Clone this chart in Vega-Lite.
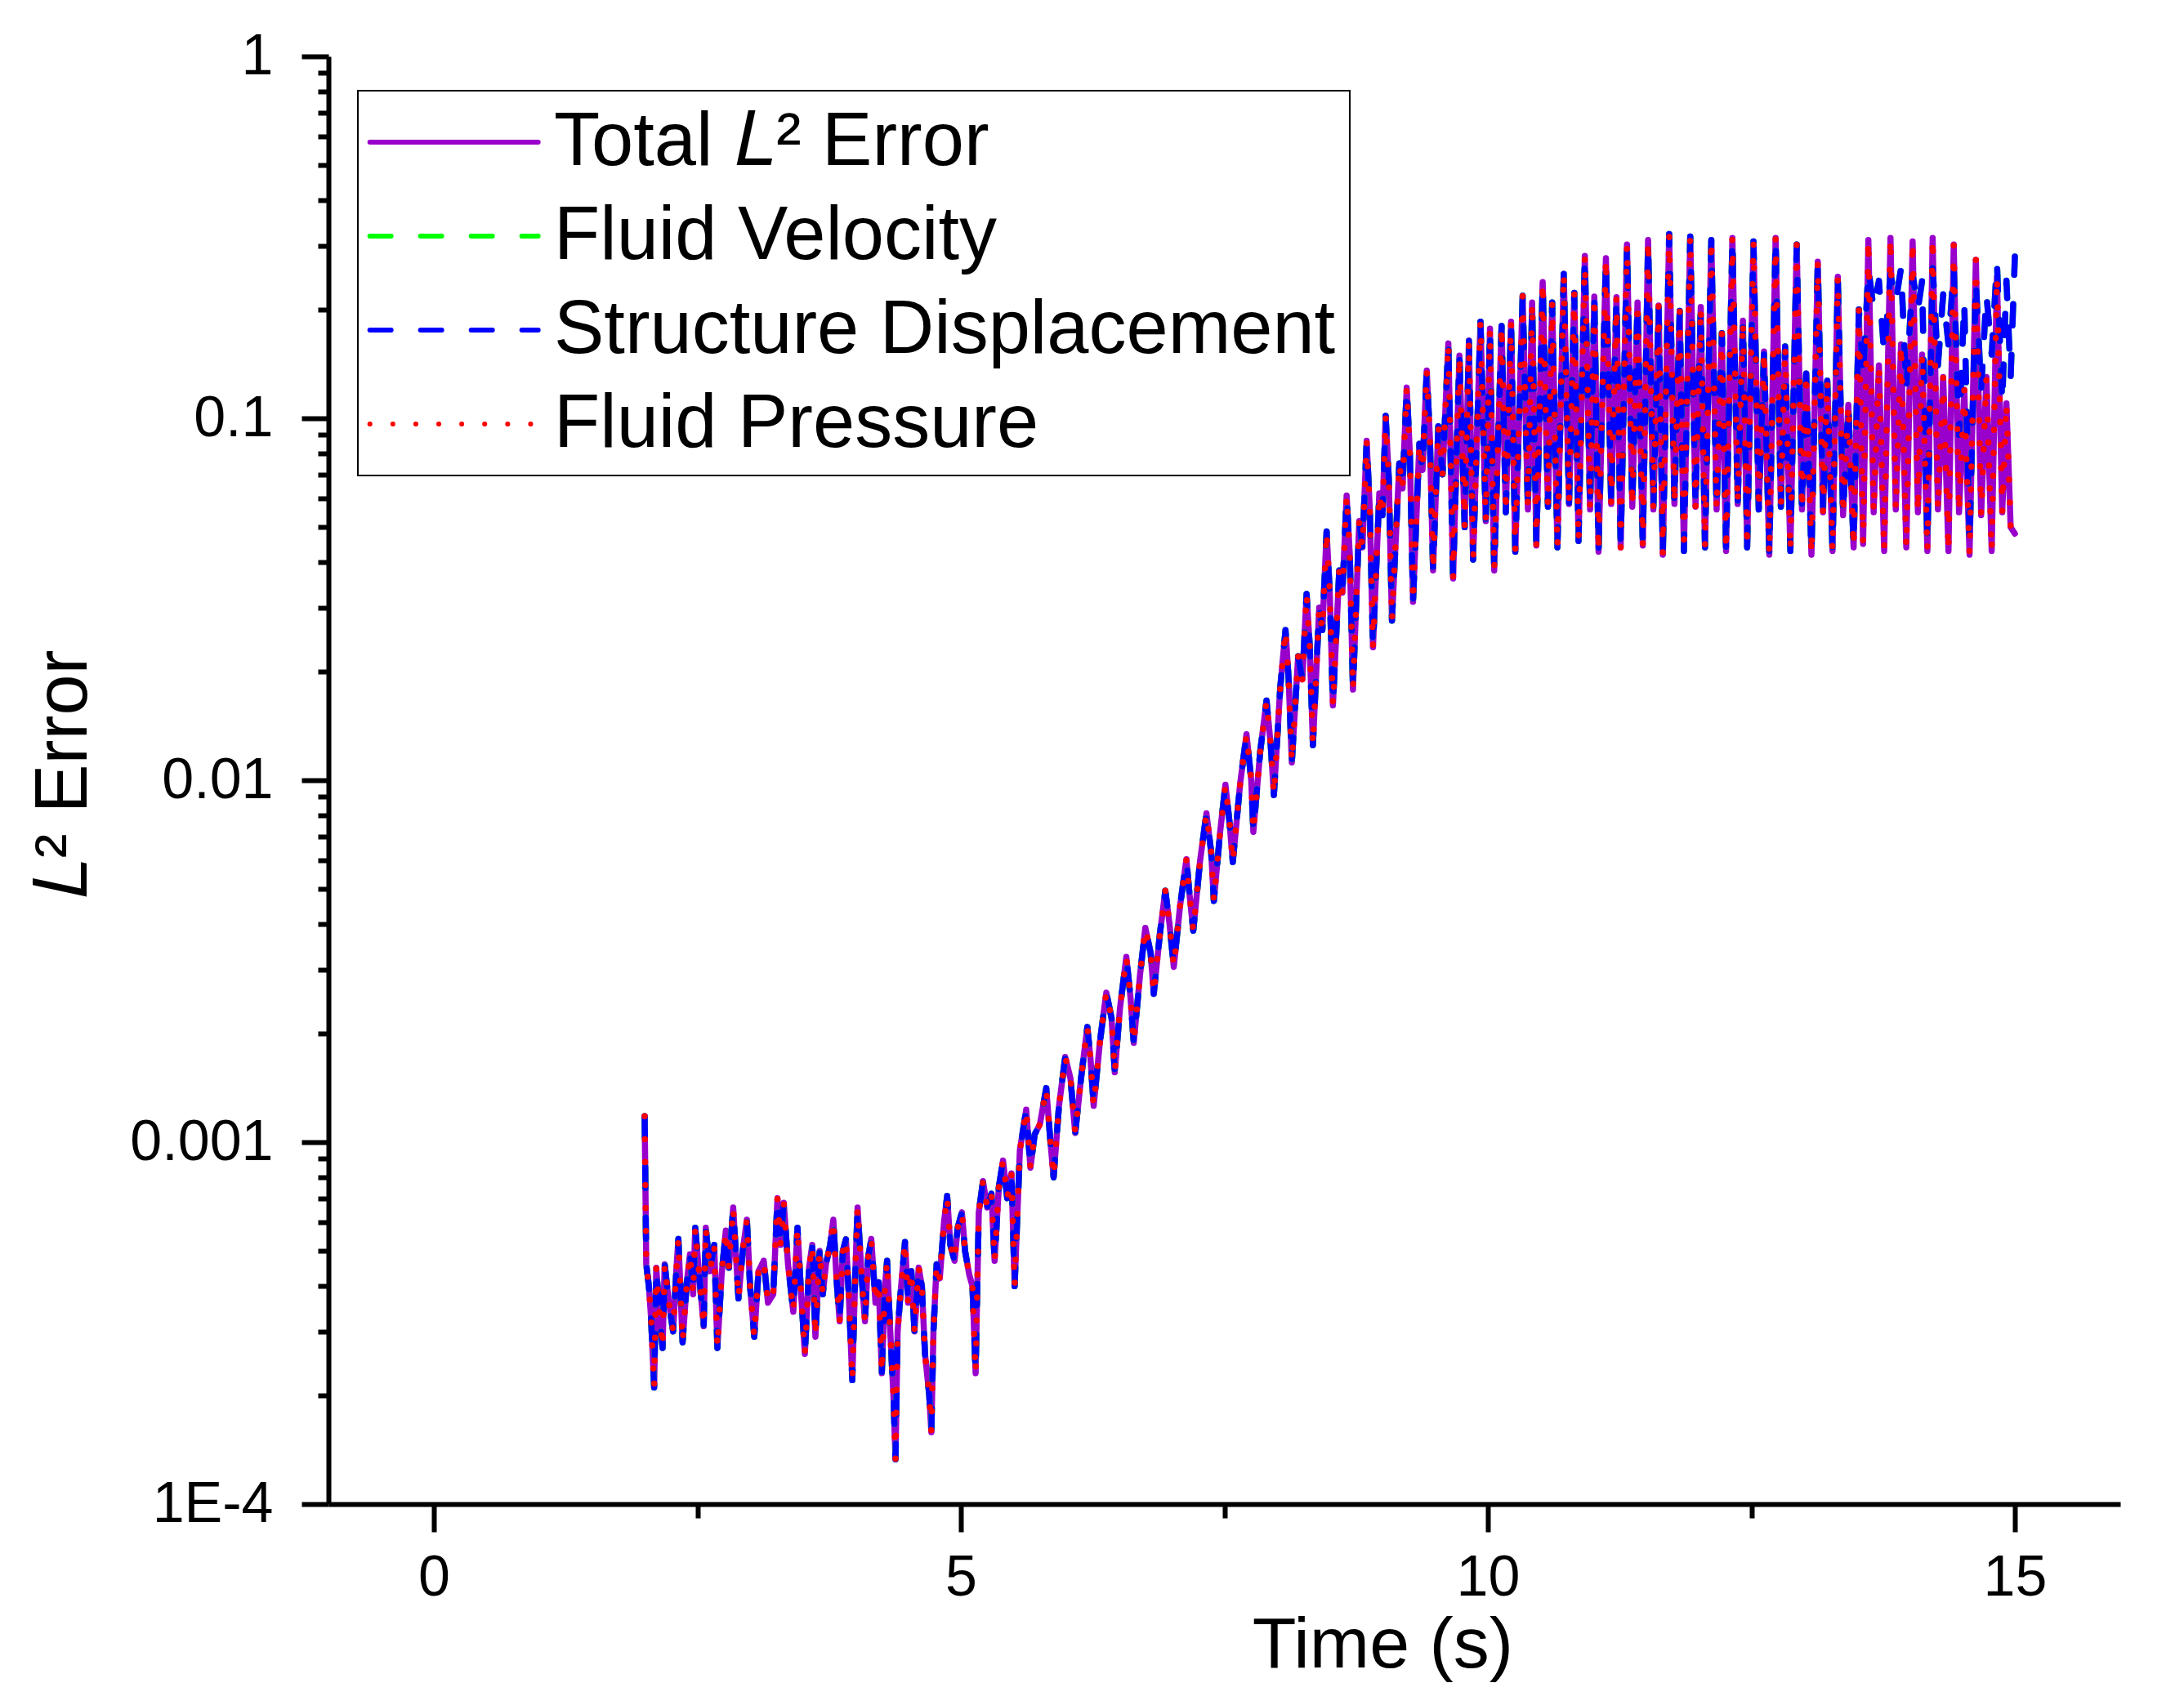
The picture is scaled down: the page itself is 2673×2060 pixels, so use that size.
{
  "$schema": "https://vega.github.io/schema/vega-lite/v6.json",
  "width": 2193,
  "height": 1772,
  "autosize": {"type": "none"},
  "padding": {"left": 402, "top": 69, "right": 78, "bottom": 219},
  "background": "white",
  "config": {
    "view": {"stroke": null},
    "font": "Liberation Sans",
    "axis": {
      "grid": false,
      "domainColor": "black",
      "domainWidth": 6,
      "tickColor": "black",
      "tickWidth": 6,
      "labelColor": "black",
      "titleColor": "black",
      "labelFont": "Liberation Sans",
      "titleFont": "Liberation Sans",
      "labelFontSize": 70,
      "titleFontSize": 88,
      "titleFontWeight": "normal",
      "labelFlush": false
    }
  },
  "data": {
    "values": [
      {"t":2.00,"tot":0.00118,"vel":0.00118,"dis":0.00118,"pre":0.00118},
      {"t":2.015,"tot":0.00046,"vel":0.00046,"dis":0.00046,"pre":0.00046},
      {"t":2.04,"tot":0.00040,"vel":0.00040,"dis":0.00040,"pre":0.00040},
      {"t":2.06,"tot":0.00033,"vel":0.00033,"dis":0.00033,"pre":0.00033},
      {"t":2.09,"tot":0.00021,"vel":0.00021,"dis":0.00021,"pre":0.00021},
      {"t":2.11,"tot":0.00045,"vel":0.00045,"dis":0.00045,"pre":0.00045},
      {"t":2.14,"tot":0.00034,"vel":0.00034,"dis":0.00034,"pre":0.00034},
      {"t":2.17,"tot":0.00027,"vel":0.00027,"dis":0.00027,"pre":0.00027},
      {"t":2.19,"tot":0.00046,"vel":0.00046,"dis":0.00046,"pre":0.00046},
      {"t":2.23,"tot":0.00036,"vel":0.00036,"dis":0.00036,"pre":0.00036},
      {"t":2.27,"tot":0.00030,"vel":0.00030,"dis":0.00030,"pre":0.00030},
      {"t":2.30,"tot":0.00044,"vel":0.00044,"dis":0.00044,"pre":0.00044},
      {"t":2.32,"tot":0.00054,"vel":0.00054,"dis":0.00054,"pre":0.00054},
      {"t":2.36,"tot":0.00028,"vel":0.00028,"dis":0.00028,"pre":0.00028},
      {"t":2.40,"tot":0.00041,"vel":0.00041,"dis":0.00041,"pre":0.00041},
      {"t":2.43,"tot":0.00049,"vel":0.00049,"dis":0.00049,"pre":0.00049},
      {"t":2.46,"tot":0.00038,"vel":0.00038,"dis":0.00038,"pre":0.00038},
      {"t":2.48,"tot":0.00058,"vel":0.00058,"dis":0.00058,"pre":0.00058},
      {"t":2.52,"tot":0.00042,"vel":0.00042,"dis":0.00042,"pre":0.00042},
      {"t":2.56,"tot":0.00031,"vel":0.00031,"dis":0.00031,"pre":0.00031},
      {"t":2.58,"tot":0.00058,"vel":0.00058,"dis":0.00058,"pre":0.00058},
      {"t":2.62,"tot":0.00044,"vel":0.00044,"dis":0.00044,"pre":0.00044},
      {"t":2.66,"tot":0.00052,"vel":0.00052,"dis":0.00052,"pre":0.00052},
      {"t":2.69,"tot":0.00027,"vel":0.00027,"dis":0.00027,"pre":0.00027},
      {"t":2.73,"tot":0.00043,"vel":0.00043,"dis":0.00043,"pre":0.00043},
      {"t":2.77,"tot":0.00057,"vel":0.00057,"dis":0.00057,"pre":0.00057},
      {"t":2.80,"tot":0.00045,"vel":0.00045,"dis":0.00045,"pre":0.00045},
      {"t":2.84,"tot":0.00066,"vel":0.00066,"dis":0.00066,"pre":0.00066},
      {"t":2.89,"tot":0.00037,"vel":0.00037,"dis":0.00037,"pre":0.00037},
      {"t":2.93,"tot":0.00050,"vel":0.00050,"dis":0.00050,"pre":0.00050},
      {"t":2.97,"tot":0.00061,"vel":0.00061,"dis":0.00061,"pre":0.00061},
      {"t":3.00,"tot":0.00040,"vel":0.00040,"dis":0.00040,"pre":0.00040},
      {"t":3.04,"tot":0.00029,"vel":0.00029,"dis":0.00029,"pre":0.00029},
      {"t":3.08,"tot":0.00044,"vel":0.00044,"dis":0.00044,"pre":0.00044},
      {"t":3.13,"tot":0.00047,"vel":0.00047,"dis":0.00047,"pre":0.00047},
      {"t":3.17,"tot":0.00036,"vel":0.00036,"dis":0.00036,"pre":0.00036},
      {"t":3.22,"tot":0.00038,"vel":0.00038,"dis":0.00038,"pre":0.00038},
      {"t":3.26,"tot":0.00070,"vel":0.00070,"dis":0.00070,"pre":0.00070},
      {"t":3.29,"tot":0.00052,"vel":0.00052,"dis":0.00052,"pre":0.00052},
      {"t":3.32,"tot":0.00068,"vel":0.00068,"dis":0.00068,"pre":0.00068},
      {"t":3.36,"tot":0.00046,"vel":0.00046,"dis":0.00046,"pre":0.00046},
      {"t":3.41,"tot":0.00034,"vel":0.00034,"dis":0.00034,"pre":0.00034},
      {"t":3.45,"tot":0.00058,"vel":0.00058,"dis":0.00058,"pre":0.00058},
      {"t":3.48,"tot":0.00040,"vel":0.00040,"dis":0.00040,"pre":0.00040},
      {"t":3.52,"tot":0.00026,"vel":0.00026,"dis":0.00026,"pre":0.00026},
      {"t":3.56,"tot":0.00045,"vel":0.00045,"dis":0.00045,"pre":0.00045},
      {"t":3.59,"tot":0.00052,"vel":0.00052,"dis":0.00052,"pre":0.00052},
      {"t":3.62,"tot":0.00029,"vel":0.00029,"dis":0.00029,"pre":0.00029},
      {"t":3.66,"tot":0.00050,"vel":0.00050,"dis":0.00050,"pre":0.00050},
      {"t":3.69,"tot":0.00038,"vel":0.00038,"dis":0.00038,"pre":0.00038},
      {"t":3.72,"tot":0.00046,"vel":0.00046,"dis":0.00046,"pre":0.00046},
      {"t":3.76,"tot":0.00052,"vel":0.00052,"dis":0.00052,"pre":0.00052},
      {"t":3.79,"tot":0.00061,"vel":0.00061,"dis":0.00061,"pre":0.00061},
      {"t":3.82,"tot":0.00042,"vel":0.00042,"dis":0.00042,"pre":0.00042},
      {"t":3.85,"tot":0.00032,"vel":0.00032,"dis":0.00032,"pre":0.00032},
      {"t":3.88,"tot":0.00050,"vel":0.00050,"dis":0.00050,"pre":0.00050},
      {"t":3.91,"tot":0.00054,"vel":0.00054,"dis":0.00054,"pre":0.00054},
      {"t":3.94,"tot":0.00036,"vel":0.00036,"dis":0.00036,"pre":0.00036},
      {"t":3.97,"tot":0.00022,"vel":0.00022,"dis":0.00022,"pre":0.00022},
      {"t":4.00,"tot":0.00045,"vel":0.00045,"dis":0.00045,"pre":0.00045},
      {"t":4.02,"tot":0.00066,"vel":0.00066,"dis":0.00066,"pre":0.00066},
      {"t":4.06,"tot":0.00042,"vel":0.00042,"dis":0.00042,"pre":0.00042},
      {"t":4.09,"tot":0.00032,"vel":0.00032,"dis":0.00032,"pre":0.00032},
      {"t":4.12,"tot":0.00048,"vel":0.00048,"dis":0.00048,"pre":0.00048},
      {"t":4.15,"tot":0.00054,"vel":0.00054,"dis":0.00054,"pre":0.00054},
      {"t":4.19,"tot":0.00036,"vel":0.00036,"dis":0.00036,"pre":0.00036},
      {"t":4.22,"tot":0.00041,"vel":0.00041,"dis":0.00041,"pre":0.00041},
      {"t":4.25,"tot":0.00023,"vel":0.00023,"dis":0.00023,"pre":0.00023},
      {"t":4.28,"tot":0.00040,"vel":0.00040,"dis":0.00040,"pre":0.00040},
      {"t":4.30,"tot":0.00047,"vel":0.00047,"dis":0.00047,"pre":0.00047},
      {"t":4.33,"tot":0.00030,"vel":0.00030,"dis":0.00030,"pre":0.00030},
      {"t":4.36,"tot":0.00020,"vel":0.00020,"dis":0.00020,"pre":0.00020},
      {"t":4.38,"tot":0.000133,"vel":0.000133,"dis":0.000133,"pre":0.000133},
      {"t":4.40,"tot":0.00030,"vel":0.00030,"dis":0.00030,"pre":0.00030},
      {"t":4.43,"tot":0.00039,"vel":0.00039,"dis":0.00039,"pre":0.00039},
      {"t":4.47,"tot":0.00053,"vel":0.00053,"dis":0.00053,"pre":0.00053},
      {"t":4.50,"tot":0.00036,"vel":0.00036,"dis":0.00036,"pre":0.00036},
      {"t":4.53,"tot":0.00044,"vel":0.00044,"dis":0.00044,"pre":0.00044},
      {"t":4.56,"tot":0.00030,"vel":0.00030,"dis":0.00030,"pre":0.00030},
      {"t":4.60,"tot":0.00045,"vel":0.00045,"dis":0.00045,"pre":0.00045},
      {"t":4.63,"tot":0.00040,"vel":0.00040,"dis":0.00040,"pre":0.00040},
      {"t":4.66,"tot":0.00026,"vel":0.00026,"dis":0.00026,"pre":0.00026},
      {"t":4.70,"tot":0.00020,"vel":0.00020,"dis":0.00020,"pre":0.00020},
      {"t":4.72,"tot":0.000158,"vel":0.000158,"dis":0.000158,"pre":0.000158},
      {"t":4.74,"tot":0.00030,"vel":0.00030,"dis":0.00030,"pre":0.00030},
      {"t":4.77,"tot":0.00046,"vel":0.00046,"dis":0.00046,"pre":0.00046},
      {"t":4.80,"tot":0.00042,"vel":0.00042,"dis":0.00042,"pre":0.00042},
      {"t":4.84,"tot":0.00060,"vel":0.00060,"dis":0.00060,"pre":0.00060},
      {"t":4.87,"tot":0.00071,"vel":0.00071,"dis":0.00071,"pre":0.00071},
      {"t":4.90,"tot":0.00052,"vel":0.00052,"dis":0.00052,"pre":0.00052},
      {"t":4.94,"tot":0.00047,"vel":0.00047,"dis":0.00047,"pre":0.00047},
      {"t":4.97,"tot":0.00058,"vel":0.00058,"dis":0.00058,"pre":0.00058},
      {"t":5.01,"tot":0.00064,"vel":0.00064,"dis":0.00064,"pre":0.00064},
      {"t":5.04,"tot":0.00050,"vel":0.00050,"dis":0.00050,"pre":0.00050},
      {"t":5.08,"tot":0.00043,"vel":0.00043,"dis":0.00043,"pre":0.00043},
      {"t":5.11,"tot":0.00040,"vel":0.00040,"dis":0.00040,"pre":0.00040},
      {"t":5.14,"tot":0.00023,"vel":0.00023,"dis":0.00023,"pre":0.00023},
      {"t":5.17,"tot":0.00064,"vel":0.00064,"dis":0.00064,"pre":0.00064},
      {"t":5.21,"tot":0.00078,"vel":0.00078,"dis":0.00078,"pre":0.00078},
      {"t":5.25,"tot":0.00066,"vel":0.00066,"dis":0.00066,"pre":0.00066},
      {"t":5.29,"tot":0.00072,"vel":0.00072,"dis":0.00072,"pre":0.00072},
      {"t":5.32,"tot":0.00047,"vel":0.00047,"dis":0.00047,"pre":0.00047},
      {"t":5.36,"tot":0.00075,"vel":0.00075,"dis":0.00075,"pre":0.00075},
      {"t":5.40,"tot":0.00089,"vel":0.00089,"dis":0.00089,"pre":0.00089},
      {"t":5.44,"tot":0.00070,"vel":0.00070,"dis":0.00070,"pre":0.00070},
      {"t":5.48,"tot":0.00082,"vel":0.00082,"dis":0.00082,"pre":0.00082},
      {"t":5.51,"tot":0.00040,"vel":0.00040,"dis":0.00040,"pre":0.00040},
      {"t":5.56,"tot":0.00095,"vel":0.00095,"dis":0.00095,"pre":0.00095},
      {"t":5.62,"tot":0.00123,"vel":0.00123,"dis":0.00123,"pre":0.00123},
      {"t":5.66,"tot":0.00085,"vel":0.00085,"dis":0.00085,"pre":0.00085},
      {"t":5.70,"tot":0.00105,"vel":0.00105,"dis":0.00105,"pre":0.00105},
      {"t":5.75,"tot":0.00112,"vel":0.00112,"dis":0.00112,"pre":0.00112},
      {"t":5.81,"tot":0.00141,"vel":0.00141,"dis":0.00141,"pre":0.00141},
      {"t":5.85,"tot":0.00100,"vel":0.00100,"dis":0.00100,"pre":0.00100},
      {"t":5.88,"tot":0.00080,"vel":0.00080,"dis":0.00080,"pre":0.00080},
      {"t":5.93,"tot":0.00125,"vel":0.00125,"dis":0.00125,"pre":0.00125},
      {"t":5.99,"tot":0.00172,"vel":0.00172,"dis":0.00172,"pre":0.00172},
      {"t":6.04,"tot":0.00150,"vel":0.00150,"dis":0.00150,"pre":0.00150},
      {"t":6.085,"tot":0.00106,"vel":0.00106,"dis":0.00106,"pre":0.00106},
      {"t":6.14,"tot":0.00150,"vel":0.00150,"dis":0.00150,"pre":0.00150},
      {"t":6.20,"tot":0.00208,"vel":0.00208,"dis":0.00208,"pre":0.00208},
      {"t":6.23,"tot":0.00170,"vel":0.00170,"dis":0.00170,"pre":0.00170},
      {"t":6.26,"tot":0.00126,"vel":0.00126,"dis":0.00126,"pre":0.00126},
      {"t":6.32,"tot":0.00190,"vel":0.00190,"dis":0.00190,"pre":0.00190},
      {"t":6.38,"tot":0.00259,"vel":0.00259,"dis":0.00259,"pre":0.00259},
      {"t":6.43,"tot":0.00220,"vel":0.00220,"dis":0.00220,"pre":0.00220},
      {"t":6.46,"tot":0.00156,"vel":0.00156,"dis":0.00156,"pre":0.00156},
      {"t":6.51,"tot":0.00235,"vel":0.00235,"dis":0.00235,"pre":0.00235},
      {"t":6.57,"tot":0.00325,"vel":0.00325,"dis":0.00325,"pre":0.00325},
      {"t":6.61,"tot":0.00250,"vel":0.00250,"dis":0.00250,"pre":0.00250},
      {"t":6.64,"tot":0.00188,"vel":0.00188,"dis":0.00188,"pre":0.00188},
      {"t":6.70,"tot":0.00290,"vel":0.00290,"dis":0.00290,"pre":0.00290},
      {"t":6.75,"tot":0.00391,"vel":0.00391,"dis":0.00391,"pre":0.00391},
      {"t":6.80,"tot":0.00334,"vel":0.00334,"dis":0.00334,"pre":0.00334},
      {"t":6.83,"tot":0.00257,"vel":0.00257,"dis":0.00257,"pre":0.00257},
      {"t":6.89,"tot":0.00380,"vel":0.00380,"dis":0.00380,"pre":0.00380},
      {"t":6.94,"tot":0.00495,"vel":0.00495,"dis":0.00495,"pre":0.00495},
      {"t":6.98,"tot":0.00400,"vel":0.00400,"dis":0.00400,"pre":0.00400},
      {"t":7.02,"tot":0.00305,"vel":0.00305,"dis":0.00305,"pre":0.00305},
      {"t":7.08,"tot":0.00450,"vel":0.00450,"dis":0.00450,"pre":0.00450},
      {"t":7.14,"tot":0.00605,"vel":0.00605,"dis":0.00605,"pre":0.00605},
      {"t":7.17,"tot":0.00482,"vel":0.00482,"dis":0.00482,"pre":0.00482},
      {"t":7.205,"tot":0.00384,"vel":0.00384,"dis":0.00384,"pre":0.00384},
      {"t":7.27,"tot":0.00600,"vel":0.00600,"dis":0.00600,"pre":0.00600},
      {"t":7.33,"tot":0.00810,"vel":0.00810,"dis":0.00810,"pre":0.00810},
      {"t":7.375,"tot":0.00633,"vel":0.00633,"dis":0.00633,"pre":0.00633},
      {"t":7.40,"tot":0.00464,"vel":0.00464,"dis":0.00464,"pre":0.00464},
      {"t":7.46,"tot":0.00720,"vel":0.00720,"dis":0.00720,"pre":0.00720},
      {"t":7.51,"tot":0.00972,"vel":0.00972,"dis":0.00972,"pre":0.00972},
      {"t":7.55,"tot":0.00760,"vel":0.00760,"dis":0.00760,"pre":0.00760},
      {"t":7.58,"tot":0.00594,"vel":0.00594,"dis":0.00594,"pre":0.00594},
      {"t":7.65,"tot":0.00980,"vel":0.00980,"dis":0.00980,"pre":0.00980},
      {"t":7.71,"tot":0.0134,"vel":0.0134,"dis":0.0134,"pre":0.0134},
      {"t":7.755,"tot":0.0100,"vel":0.0100,"dis":0.0100,"pre":0.0100},
      {"t":7.775,"tot":0.0072,"vel":0.0072,"dis":0.0072,"pre":0.0072},
      {"t":7.84,"tot":0.0120,"vel":0.0120,"dis":0.0120,"pre":0.0120},
      {"t":7.90,"tot":0.0166,"vel":0.0166,"dis":0.0166,"pre":0.0166},
      {"t":7.94,"tot":0.0125,"vel":0.0125,"dis":0.0125,"pre":0.0125},
      {"t":7.97,"tot":0.0091,"vel":0.0091,"dis":0.0091,"pre":0.0091},
      {"t":8.03,"tot":0.0180,"vel":0.0180,"dis":0.0180,"pre":0.0180},
      {"t":8.08,"tot":0.0260,"vel":0.0260,"dis":0.0260,"pre":0.0260},
      {"t":8.11,"tot":0.0190,"vel":0.0190,"dis":0.0190,"pre":0.0190},
      {"t":8.14,"tot":0.0112,"vel":0.0112,"dis":0.0112,"pre":0.0112},
      {"t":8.20,"tot":0.0220,"vel":0.0220,"dis":0.0220,"pre":0.0220},
      {"t":8.24,"tot":0.0190,"vel":0.0190,"dis":0.0190,"pre":0.0190},
      {"t":8.28,"tot":0.0327,"vel":0.0327,"dis":0.0327,"pre":0.0327},
      {"t":8.31,"tot":0.0235,"vel":0.0235,"dis":0.0235,"pre":0.0235},
      {"t":8.34,"tot":0.0125,"vel":0.0125,"dis":0.0125,"pre":0.0125},
      {"t":8.40,"tot":0.0300,"vel":0.0300,"dis":0.0300,"pre":0.0300},
      {"t":8.43,"tot":0.0260,"vel":0.0260,"dis":0.0260,"pre":0.0260},
      {"t":8.47,"tot":0.0487,"vel":0.0487,"dis":0.0487,"pre":0.0487},
      {"t":8.50,"tot":0.0330,"vel":0.0330,"dis":0.0330,"pre":0.0330},
      {"t":8.53,"tot":0.0161,"vel":0.0161,"dis":0.0161,"pre":0.0161},
      {"t":8.59,"tot":0.0380,"vel":0.0380,"dis":0.0380,"pre":0.0380},
      {"t":8.62,"tot":0.0330,"vel":0.0330,"dis":0.0330,"pre":0.0330},
      {"t":8.66,"tot":0.0612,"vel":0.0612,"dis":0.0612,"pre":0.0612},
      {"t":8.69,"tot":0.0420,"vel":0.0420,"dis":0.0420,"pre":0.0420},
      {"t":8.72,"tot":0.0178,"vel":0.0178,"dis":0.0178,"pre":0.0178},
      {"t":8.78,"tot":0.0520,"vel":0.0520,"dis":0.0520,"pre":0.0520},
      {"t":8.81,"tot":0.0440,"vel":0.0440,"dis":0.0440,"pre":0.0440},
      {"t":8.85,"tot":0.0867,"vel":0.0867,"dis":0.0867,"pre":0.0867},
      {"t":8.88,"tot":0.0560,"vel":0.0560,"dis":0.0560,"pre":0.0560},
      {"t":8.91,"tot":0.0233,"vel":0.0233,"dis":0.0233,"pre":0.0233},
      {"t":8.97,"tot":0.0620,"vel":0.0620,"dis":0.0620,"pre":0.0620},
      {"t":9.00,"tot":0.0540,"vel":0.0540,"dis":0.0540,"pre":0.0540},
      {"t":9.03,"tot":0.1016,"vel":0.1016,"dis":0.1016,"pre":0.1016},
      {"t":9.06,"tot":0.0680,"vel":0.0680,"dis":0.0680,"pre":0.0680},
      {"t":9.09,"tot":0.0276,"vel":0.0276,"dis":0.0276,"pre":0.0276},
      {"t":9.16,"tot":0.0750,"vel":0.0750,"dis":0.0750,"pre":0.0750},
      {"t":9.19,"tot":0.0640,"vel":0.0640,"dis":0.0640,"pre":0.0640},
      {"t":9.23,"tot":0.1216,"vel":0.1216,"dis":0.1216,"pre":0.1216},
      {"t":9.26,"tot":0.0800,"vel":0.0800,"dis":0.0800,"pre":0.0800},
      {"t":9.29,"tot":0.0311,"vel":0.0311,"dis":0.0311,"pre":0.0311},
      {"t":9.35,"tot":0.0850,"vel":0.0850,"dis":0.0850,"pre":0.0850},
      {"t":9.38,"tot":0.0720,"vel":0.0720,"dis":0.0720,"pre":0.0720},
      {"t":9.42,"tot":0.1356,"vel":0.1356,"dis":0.1356,"pre":0.1356},
      {"t":9.45,"tot":0.0880,"vel":0.0880,"dis":0.0880,"pre":0.0880},
      {"t":9.48,"tot":0.0380,"vel":0.0380,"dis":0.0380,"pre":0.0380},
      {"t":9.53,"tot":0.0950,"vel":0.0950,"dis":0.0950,"pre":0.0950},
      {"t":9.57,"tot":0.0700,"vel":0.0700,"dis":0.0700,"pre":0.0700},
      {"t":9.625,"tot":0.161,"vel":0.161,"dis":0.161,"pre":0.161},
      {"t":9.67,"tot":0.0361,"vel":0.0361,"dis":0.0361,"pre":0.0361},
      {"t":9.73,"tot":0.149,"vel":0.149,"dis":0.149,"pre":0.149},
      {"t":9.78,"tot":0.050,"vel":0.050,"dis":0.050,"pre":0.050},
      {"t":9.82,"tot":0.164,"vel":0.164,"dis":0.164,"pre":0.164},
      {"t":9.86,"tot":0.0407,"vel":0.0407,"dis":0.0407,"pre":0.0407},
      {"t":9.93,"tot":0.185,"vel":0.185,"dis":0.185,"pre":0.185},
      {"t":9.98,"tot":0.052,"vel":0.052,"dis":0.052,"pre":0.052},
      {"t":10.02,"tot":0.177,"vel":0.177,"dis":0.177,"pre":0.177},
      {"t":10.06,"tot":0.038,"vel":0.038,"dis":0.038,"pre":0.038},
      {"t":10.13,"tot":0.180,"vel":0.180,"dis":0.180,"pre":0.180},
      {"t":10.17,"tot":0.055,"vel":0.055,"dis":0.055,"pre":0.055},
      {"t":10.22,"tot":0.185,"vel":0.185,"dis":0.185,"pre":0.185},
      {"t":10.26,"tot":0.0428,"vel":0.0428,"dis":0.0428,"pre":0.0428},
      {"t":10.33,"tot":0.218,"vel":0.218,"dis":0.218,"pre":0.218},
      {"t":10.38,"tot":0.056,"vel":0.056,"dis":0.056,"pre":0.056},
      {"t":10.42,"tot":0.209,"vel":0.209,"dis":0.209,"pre":0.209},
      {"t":10.46,"tot":0.0445,"vel":0.0445,"dis":0.0445,"pre":0.0445},
      {"t":10.52,"tot":0.238,"vel":0.238,"dis":0.238,"pre":0.238},
      {"t":10.57,"tot":0.057,"vel":0.057,"dis":0.057,"pre":0.057},
      {"t":10.61,"tot":0.209,"vel":0.209,"dis":0.209,"pre":0.209},
      {"t":10.66,"tot":0.044,"vel":0.044,"dis":0.044,"pre":0.044},
      {"t":10.72,"tot":0.251,"vel":0.251,"dis":0.251,"pre":0.251},
      {"t":10.77,"tot":0.058,"vel":0.058,"dis":0.058,"pre":0.058},
      {"t":10.82,"tot":0.222,"vel":0.222,"dis":0.222,"pre":0.222},
      {"t":10.86,"tot":0.0458,"vel":0.0458,"dis":0.0458,"pre":0.0458},
      {"t":10.92,"tot":0.281,"vel":0.281,"dis":0.281,"pre":0.281},
      {"t":10.97,"tot":0.056,"vel":0.056,"dis":0.056,"pre":0.056},
      {"t":11.01,"tot":0.217,"vel":0.217,"dis":0.217,"pre":0.217},
      {"t":11.05,"tot":0.0428,"vel":0.0428,"dis":0.0428,"pre":0.0428},
      {"t":11.12,"tot":0.277,"vel":0.277,"dis":0.277,"pre":0.277},
      {"t":11.17,"tot":0.058,"vel":0.058,"dis":0.058,"pre":0.058},
      {"t":11.22,"tot":0.216,"vel":0.216,"dis":0.216,"pre":0.216},
      {"t":11.26,"tot":0.044,"vel":0.044,"dis":0.044,"pre":0.044},
      {"t":11.32,"tot":0.302,"vel":0.302,"dis":0.302,"pre":0.302},
      {"t":11.37,"tot":0.057,"vel":0.057,"dis":0.057,"pre":0.057},
      {"t":11.42,"tot":0.209,"vel":0.209,"dis":0.209,"pre":0.209},
      {"t":11.47,"tot":0.0445,"vel":0.0445,"dis":0.0445,"pre":0.0445},
      {"t":11.52,"tot":0.311,"vel":0.311,"dis":0.311,"pre":0.311},
      {"t":11.57,"tot":0.056,"vel":0.056,"dis":0.056,"pre":0.056},
      {"t":11.62,"tot":0.205,"vel":0.205,"dis":0.205,"pre":0.205},
      {"t":11.66,"tot":0.042,"vel":0.042,"dis":0.042,"pre":0.042},
      {"t":11.72,"tot":0.323,"vel":0.323,"dis":0.323,"pre":0.323},
      {"t":11.77,"tot":0.058,"vel":0.058,"dis":0.058,"pre":0.058},
      {"t":11.82,"tot":0.198,"vel":0.198,"dis":0.198,"pre":0.198},
      {"t":11.86,"tot":0.043,"vel":0.043,"dis":0.043,"pre":0.043},
      {"t":11.92,"tot":0.318,"vel":0.318,"dis":0.318,"pre":0.318},
      {"t":11.97,"tot":0.057,"vel":0.057,"dis":0.057,"pre":0.057},
      {"t":12.02,"tot":0.203,"vel":0.203,"dis":0.203,"pre":0.203},
      {"t":12.06,"tot":0.044,"vel":0.044,"dis":0.044,"pre":0.044},
      {"t":12.12,"tot":0.311,"vel":0.311,"dis":0.311,"pre":0.311},
      {"t":12.17,"tot":0.056,"vel":0.056,"dis":0.056,"pre":0.056},
      {"t":12.22,"tot":0.172,"vel":0.172,"dis":0.172,"pre":0.172},
      {"t":12.26,"tot":0.043,"vel":0.043,"dis":0.043,"pre":0.043},
      {"t":12.32,"tot":0.315,"vel":0.315,"dis":0.315,"pre":0.315},
      {"t":12.37,"tot":0.058,"vel":0.058,"dis":0.058,"pre":0.058},
      {"t":12.42,"tot":0.186,"vel":0.186,"dis":0.186,"pre":0.186},
      {"t":12.46,"tot":0.044,"vel":0.044,"dis":0.044,"pre":0.044},
      {"t":12.52,"tot":0.308,"vel":0.308,"dis":0.308,"pre":0.308},
      {"t":12.57,"tot":0.056,"vel":0.056,"dis":0.056,"pre":0.056},
      {"t":12.62,"tot":0.153,"vel":0.153,"dis":0.153,"pre":0.153},
      {"t":12.67,"tot":0.042,"vel":0.042,"dis":0.042,"pre":0.042},
      {"t":12.73,"tot":0.315,"vel":0.315,"dis":0.315,"pre":0.315},
      {"t":12.78,"tot":0.057,"vel":0.057,"dis":0.057,"pre":0.057},
      {"t":12.82,"tot":0.158,"vel":0.158,"dis":0.158,"pre":0.158},
      {"t":12.87,"tot":0.043,"vel":0.043,"dis":0.043,"pre":0.043},
      {"t":12.93,"tot":0.302,"vel":0.302,"dis":0.302,"pre":0.302},
      {"t":12.98,"tot":0.056,"vel":0.056,"dis":0.056,"pre":0.056},
      {"t":13.02,"tot":0.133,"vel":0.133,"dis":0.133,"pre":0.133},
      {"t":13.07,"tot":0.042,"vel":0.042,"dis":0.042,"pre":0.042},
      {"t":13.13,"tot":0.271,"vel":0.271,"dis":0.271,"pre":0.271},
      {"t":13.18,"tot":0.055,"vel":0.055,"dis":0.055,"pre":0.055},
      {"t":13.22,"tot":0.127,"vel":0.127,"dis":0.127,"pre":0.127},
      {"t":13.27,"tot":0.043,"vel":0.043,"dis":0.043,"pre":0.043},
      {"t":13.32,"tot":0.246,"vel":0.246,"dis":0.246,"pre":0.246},
      {"t":13.37,"tot":0.054,"vel":0.054,"dis":0.054,"pre":0.054},
      {"t":13.42,"tot":0.109,"vel":0.109,"dis":0.109,"pre":0.109},
      {"t":13.47,"tot":0.044,"vel":0.044,"dis":0.044,"pre":0.044},
      {"t":13.52,"tot":0.200,"vel":0.200,"dis":0.200,"pre":0.200},
      {"t":13.56,"tot":0.045,"vel":0.130,"dis":0.130,"pre":0.045},
      {"t":13.61,"tot":0.311,"vel":0.260,"dis":0.260,"pre":0.311},
      {"t":13.66,"tot":0.055,"vel":0.200,"dis":0.200,"pre":0.055},
      {"t":13.71,"tot":0.140,"vel":0.240,"dis":0.240,"pre":0.140},
      {"t":13.76,"tot":0.043,"vel":0.150,"dis":0.150,"pre":0.043},
      {"t":13.82,"tot":0.315,"vel":0.250,"dis":0.250,"pre":0.315},
      {"t":13.87,"tot":0.056,"vel":0.210,"dis":0.210,"pre":0.056},
      {"t":13.92,"tot":0.160,"vel":0.260,"dis":0.260,"pre":0.160},
      {"t":13.97,"tot":0.044,"vel":0.120,"dis":0.120,"pre":0.044},
      {"t":14.03,"tot":0.308,"vel":0.250,"dis":0.250,"pre":0.308},
      {"t":14.08,"tot":0.055,"vel":0.200,"dis":0.200,"pre":0.055},
      {"t":14.12,"tot":0.150,"vel":0.240,"dis":0.240,"pre":0.150},
      {"t":14.17,"tot":0.043,"vel":0.045,"dis":0.045,"pre":0.043},
      {"t":14.22,"tot":0.315,"vel":0.260,"dis":0.260,"pre":0.315},
      {"t":14.27,"tot":0.056,"vel":0.140,"dis":0.140,"pre":0.056},
      {"t":14.32,"tot":0.130,"vel":0.220,"dis":0.220,"pre":0.130},
      {"t":14.37,"tot":0.043,"vel":0.160,"dis":0.160,"pre":0.043},
      {"t":14.42,"tot":0.302,"vel":0.260,"dis":0.260,"pre":0.302},
      {"t":14.47,"tot":0.055,"vel":0.090,"dis":0.090,"pre":0.055},
      {"t":14.52,"tot":0.120,"vel":0.210,"dis":0.210,"pre":0.120},
      {"t":14.57,"tot":0.042,"vel":0.045,"dis":0.045,"pre":0.042},
      {"t":14.63,"tot":0.274,"vel":0.240,"dis":0.240,"pre":0.274},
      {"t":14.68,"tot":0.054,"vel":0.120,"dis":0.120,"pre":0.054},
      {"t":14.73,"tot":0.130,"vel":0.220,"dis":0.220,"pre":0.130},
      {"t":14.78,"tot":0.043,"vel":0.150,"dis":0.150,"pre":0.043},
      {"t":14.83,"tot":0.246,"vel":0.270,"dis":0.270,"pre":0.246},
      {"t":14.88,"tot":0.055,"vel":0.110,"dis":0.110,"pre":0.055},
      {"t":14.92,"tot":0.110,"vel":0.240,"dis":0.240,"pre":0.110},
      {"t":14.96,"tot":0.050,"vel":0.130,"dis":0.130,"pre":0.050},
      {"t":15.00,"tot":0.048,"vel":0.280,"dis":0.280,"pre":0.048}
    ]
  },
  "transform": [{"fold": ["tot", "vel", "dis", "pre"], "as": ["series", "value"]}],
  "encoding": {
    "color": {
      "field": "series",
      "type": "nominal",
      "scale": {"domain": ["tot", "vel", "dis", "pre"], "range": ["#9900CC", "#00FF00", "#0000FF", "#FF0000"]},
      "legend": {
        "title": null,
        "orient": "none",
        "legendX": 36,
        "legendY": 42,
        "direction": "vertical",
        "fillColor": "white",
        "strokeColor": "black",
        "padding": 17,
        "rowPadding": 23,
        "labelFont": "Liberation Sans",
        "labelFontSize": 92,
        "labelColor": "black",
        "labelLimit": 0,
        "labelOffset": 145,
        "symbolOffset": -14,
        "symbolType": "M-1,0H5",
        "symbolSize": 4715,
        "symbolStrokeWidth": 6,
        "labelExpr": "datum.label === 'tot' ? 'Total 𝐿² Error' : datum.label === 'vel' ? 'Fluid Velocity' : datum.label === 'dis' ? 'Structure Displacement' : 'Fluid Pressure'",
        "encoding": {"symbols": {"strokeCap": {"value": "round"}}, "legend": {"strokeWidth": {"value": 2}}}
      }
    },
    "strokeDash": {
      "field": "series",
      "type": "nominal",
      "scale": {"domain": ["tot", "vel", "dis", "pre"], "range": [[1, 0], [26, 36], [26, 36], [0.1, 28]]},
      "legend": {
        "title": null,
        "orient": "none",
        "legendX": 36,
        "legendY": 42,
        "direction": "vertical",
        "fillColor": "white",
        "strokeColor": "black",
        "padding": 17,
        "rowPadding": 23,
        "labelFont": "Liberation Sans",
        "labelFontSize": 92,
        "labelColor": "black",
        "labelLimit": 0,
        "labelOffset": 145,
        "symbolOffset": -14,
        "symbolType": "M-1,0H5",
        "symbolSize": 4715,
        "symbolStrokeWidth": 6,
        "labelExpr": "datum.label === 'tot' ? 'Total 𝐿² Error' : datum.label === 'vel' ? 'Fluid Velocity' : datum.label === 'dis' ? 'Structure Displacement' : 'Fluid Pressure'",
        "encoding": {"symbols": {"strokeCap": {"value": "round"}}, "legend": {"strokeWidth": {"value": 2}}}
      }
    }
  },
  "layer": [
    {
      "transform": [{"filter": "datum.series === 'tot'"}],
      "mark": {"type": "line", "strokeWidth": 7.5, "strokeCap": "round", "strokeJoin": "round"},
      "encoding": {
        "x": {
          "field": "t",
          "type": "quantitative",
          "scale": {"domain": [-1, 16], "nice": false, "zero": false},
          "axis": {
            "orient": "bottom",
            "values": [0, 5, 10, 15],
            "format": "d",
            "tickSize": 34,
            "labelPadding": 22,
            "title": "Time (s)",
            "titleX": 1290,
            "titleY": 199,
            "titleAlign": "center",
            "titleBaseline": "alphabetic"
          }
        },
        "y": {
          "field": "value",
          "type": "quantitative",
          "scale": {"type": "log", "domain": [0.0001, 1], "nice": false},
          "axis": {
            "orient": "left",
            "values": [0.0001, 0.001, 0.01, 0.1, 1],
            "labelExpr": "datum.value < 0.0002 ? '1E-4' : datum.value < 0.002 ? '0.001' : datum.value < 0.02 ? '0.01' : datum.value < 0.2 ? '0.1' : '1'",
            "tickSize": 33,
            "labelPadding": 35,
            "title": "𝐿² Error",
            "titleFontSize": 90,
            "titleX": -297,
            "titleY": 879,
            "titleAngle": -90,
            "titleAlign": "center",
            "titleBaseline": "alphabetic"
          }
        }
      }
    },
    {
      "transform": [{"filter": "datum.series === 'vel'"}],
      "mark": {"type": "line", "strokeWidth": 7.5, "strokeCap": "round", "strokeJoin": "round"},
      "encoding": {
        "x": {
          "field": "t",
          "type": "quantitative",
          "scale": {"domain": [-1, 16], "nice": false, "zero": false},
          "axis": {"orient": "bottom", "values": [2.5, 7.5, 12.5], "labels": false, "domain": false, "tickSize": 17, "title": null}
        },
        "y": {
          "field": "value",
          "type": "quantitative",
          "scale": {"type": "log", "domain": [0.0001, 1], "nice": false},
          "axis": {
            "orient": "left",
            "values": [0.0002, 0.0003, 0.0004, 0.0005, 0.0006, 0.0007, 0.0008, 0.0009, 0.002, 0.003, 0.004, 0.005, 0.006, 0.007, 0.008, 0.009, 0.02, 0.03, 0.04, 0.05, 0.06, 0.07, 0.08, 0.09, 0.2, 0.3, 0.4, 0.5, 0.6, 0.7, 0.8, 0.9],
            "labels": false,
            "domain": false,
            "tickSize": 13,
            "title": null
          }
        }
      }
    },
    {
      "transform": [{"filter": "datum.series === 'dis'"}],
      "mark": {"type": "line", "strokeWidth": 7.5, "strokeCap": "round", "strokeJoin": "round"},
      "encoding": {
        "x": {"field": "t", "type": "quantitative", "scale": {"domain": [-1, 16], "nice": false, "zero": false}, "axis": null},
        "y": {"field": "value", "type": "quantitative", "scale": {"type": "log", "domain": [0.0001, 1], "nice": false}, "axis": null}
      }
    },
    {
      "transform": [{"filter": "datum.series === 'pre'"}],
      "mark": {"type": "line", "strokeWidth": 7.5, "strokeCap": "round", "strokeJoin": "round"},
      "encoding": {
        "x": {"field": "t", "type": "quantitative", "scale": {"domain": [-1, 16], "nice": false, "zero": false}, "axis": null},
        "y": {"field": "value", "type": "quantitative", "scale": {"type": "log", "domain": [0.0001, 1], "nice": false}, "axis": null}
      }
    }
  ],
  "resolve": {"axis": {"x": "independent", "y": "independent"}}
}
